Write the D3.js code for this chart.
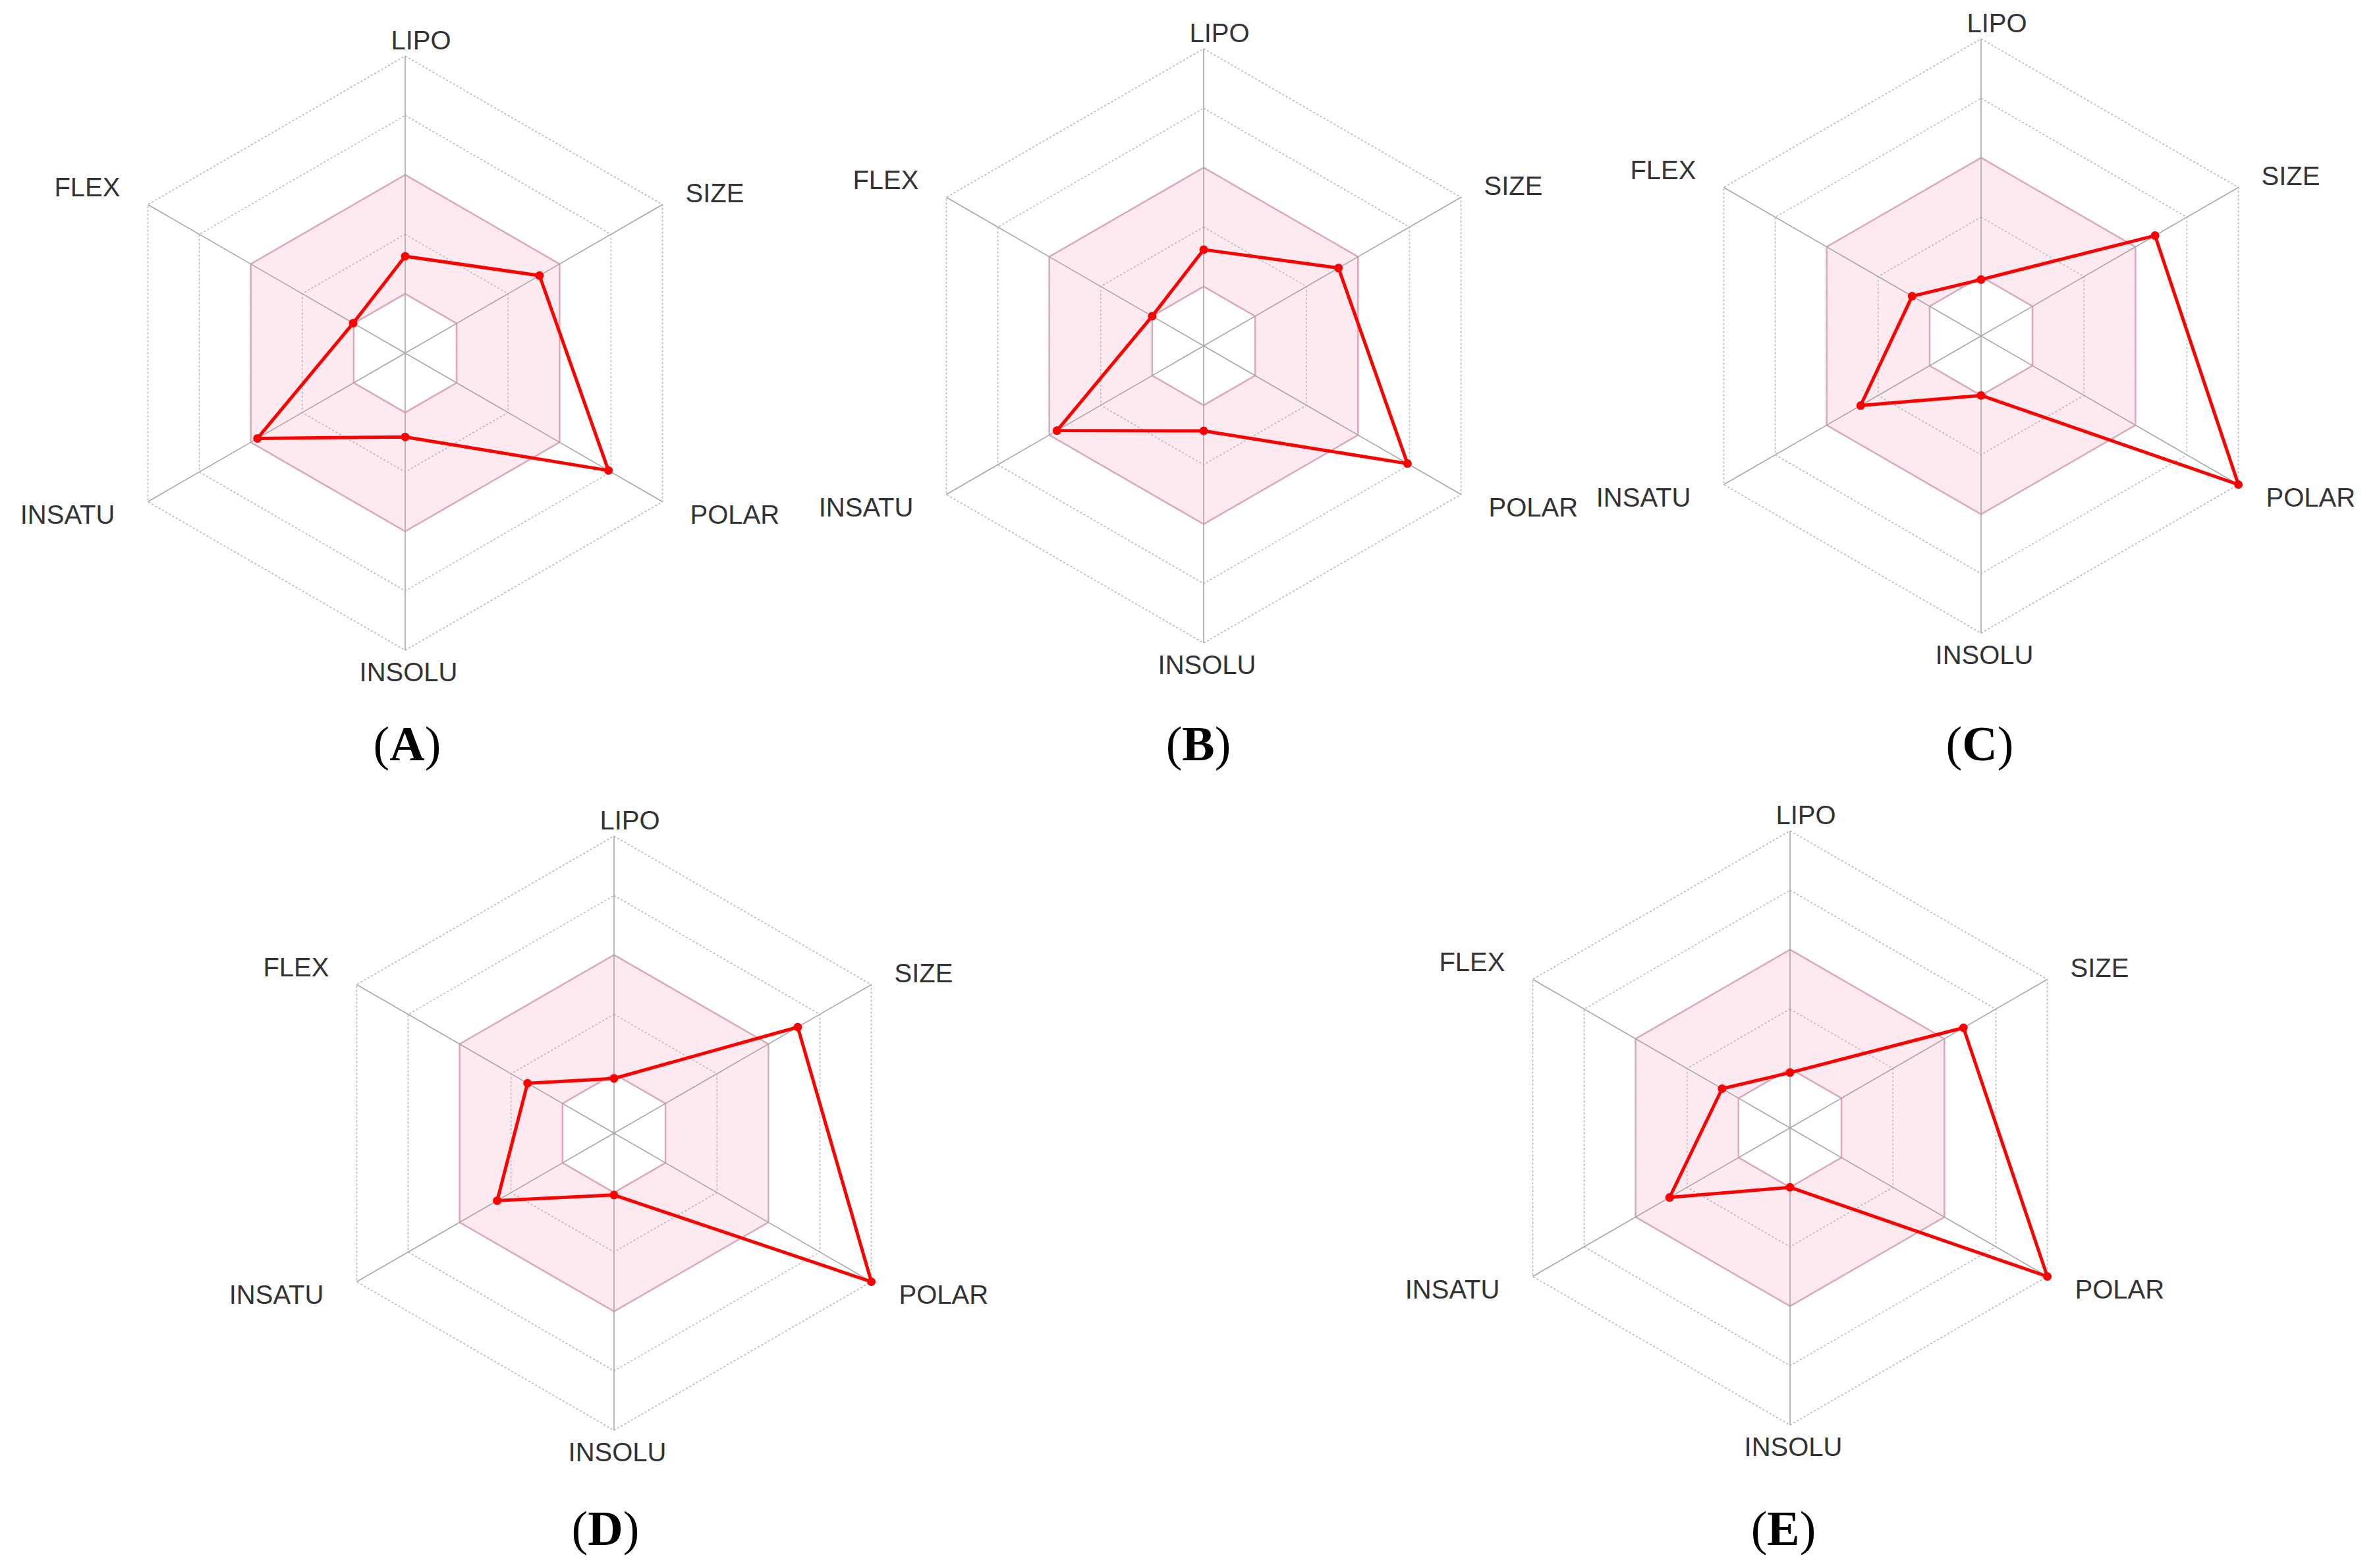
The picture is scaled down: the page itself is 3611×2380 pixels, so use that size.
<!DOCTYPE html>
<html>
<head>
<meta charset="utf-8">
<script src="https://cdn.jsdelivr.net/npm/d3@7"></script>
<style>
  body { margin: 0; background: #fff; }
  svg { display: block; }
</style>
</head>
<body>
<div id="chart"></div>
<script>
var width = 3611, height = 2380;

// data
var axisNames = ["LIPO", "SIZE", "POLAR", "INSOLU", "INSATU", "FLEX"];
var panelNames = ["A", "B", "C", "D", "E"];
var valuesA = [1.63, 2.61, 3.95, 1.41, 2.87, 1.01];
var valuesB = [1.62, 2.62, 3.96, 1.43, 2.85, 1.00];
var valuesC = [0.95, 3.38, 5.00, 1.00, 2.34, 1.34];
var valuesD = [0.92, 3.57, 5.00, 1.04, 2.27, 1.68];
var valuesE = [0.93, 3.37, 5.00, 1.00, 2.34, 1.32];
var ringLevels = [1, 2, 3, 4, 5];
var optimalRange = [1, 3];

var panelValues = [valuesA, valuesB, valuesC, valuesD, valuesE];

// layout
var centers = [[615, 536], [1827, 525], [3007, 510], [932, 1720], [2717, 1712]];
var panelLabelPos = [[618, 1154], [1819, 1154], [3005, 1154], [919, 2345], [2707, 2345]];
var R = 451;
// label offsets from the outer vertex of each axis
var labelOffsets = [
    {dx: 24, dy: -10, anchor: "middle"},
    {dx: 35, dy: -4, anchor: "start"},
    {dx: 42, dy: 33, anchor: "start"},
    {dx: 5, dy: 47, anchor: "middle"},
    {dx: -50, dy: 33, anchor: "end"},
    {dx: -42, dy: -13, anchor: "end"}
];

var r = d3.scaleLinear().domain([0, 5]).range([0, R]);
var angle = function(i) { return i * 2 * Math.PI / axisNames.length; };

var svg = d3.select("#chart")
    .append("svg")
        .attr("width", width)
        .attr("height", height);

function hexagon(level) {
    var pts = axisNames.map(function(d, i) { return d3.pointRadial(angle(i), r(level)); });
    return "M" + pts.map(function(p) { return p[0] + "," + p[1]; }).join("L") + "Z";
}

var dataLine = d3.lineRadial()
    .angle(function(d, i) { return angle(i); })
    .radius(function(d) { return r(d); })
    .curve(d3.curveLinearClosed);

panelNames.forEach(function(name, k) {
    var g = svg.append("g")
        .attr("transform", "translate(" + centers[k][0] + "," + centers[k][1] + ")");

    // optimal (pink) zone
    g.append("path")
        .attr("d", hexagon(optimalRange[1]) + hexagon(optimalRange[0]))
        .attr("fill-rule", "evenodd")
        .attr("fill", "#fdeaf0")
        .attr("stroke", "#eba3b5")
        .attr("stroke-width", 2.5);

    // dotted rings
    g.selectAll(".ring")
        .data(ringLevels)
        .enter()
        .append("path")
            .attr("class", "ring")
            .attr("d", function(d) { return hexagon(d); })
            .attr("fill", "none")
            .attr("stroke", "#b8b8b8")
            .attr("stroke-width", 1.6)
            .attr("stroke-dasharray", "3,3");

    // axes
    g.selectAll(".axis")
        .data(axisNames)
        .enter()
        .append("line")
            .attr("class", "axis")
            .attr("x1", 0)
            .attr("y1", 0)
            .attr("x2", function(d, i) { return d3.pointRadial(angle(i), r(5))[0]; })
            .attr("y2", function(d, i) { return d3.pointRadial(angle(i), r(5))[1]; })
            .attr("stroke", "#a8a8a8")
            .attr("stroke-width", 1.6);

    // axis labels
    g.selectAll(".axis-label")
        .data(axisNames)
        .enter()
        .append("text")
            .attr("class", "axis-label")
            .attr("x", function(d, i) { return d3.pointRadial(angle(i), r(5))[0] + labelOffsets[i].dx; })
            .attr("y", function(d, i) { return d3.pointRadial(angle(i), r(5))[1] + labelOffsets[i].dy; })
            .attr("text-anchor", function(d, i) { return labelOffsets[i].anchor; })
            .style("font-family", "'Liberation Sans', Arial, sans-serif")
            .style("font-size", "40px")
            .style("fill", "#333")
            .text(function(d) { return d; });

    // data polygon
    g.append("path")
        .attr("d", dataLine(panelValues[k]))
        .attr("fill", "none")
        .attr("stroke", "#ff0000")
        .attr("stroke-width", 5)
        .attr("stroke-linejoin", "round");

    g.selectAll(".dot")
        .data(panelValues[k])
        .enter()
        .append("circle")
            .attr("class", "dot")
            .attr("cx", function(d, i) { return d3.pointRadial(angle(i), r(d))[0]; })
            .attr("cy", function(d, i) { return d3.pointRadial(angle(i), r(d))[1]; })
            .attr("r", 6.5)
            .attr("fill", "#ff0000");

    // panel letter
    var lbl = svg.append("text")
        .attr("x", panelLabelPos[k][0])
        .attr("y", panelLabelPos[k][1])
        .attr("text-anchor", "middle")
        .style("font-family", "'Liberation Serif', 'Times New Roman', serif")
        .style("font-size", "74px")
        .style("fill", "#000");
    lbl.append("tspan").text("(");
    lbl.append("tspan").style("font-weight", "bold").text(name);
    lbl.append("tspan").text(")");
});
</script>
</body>
</html>
